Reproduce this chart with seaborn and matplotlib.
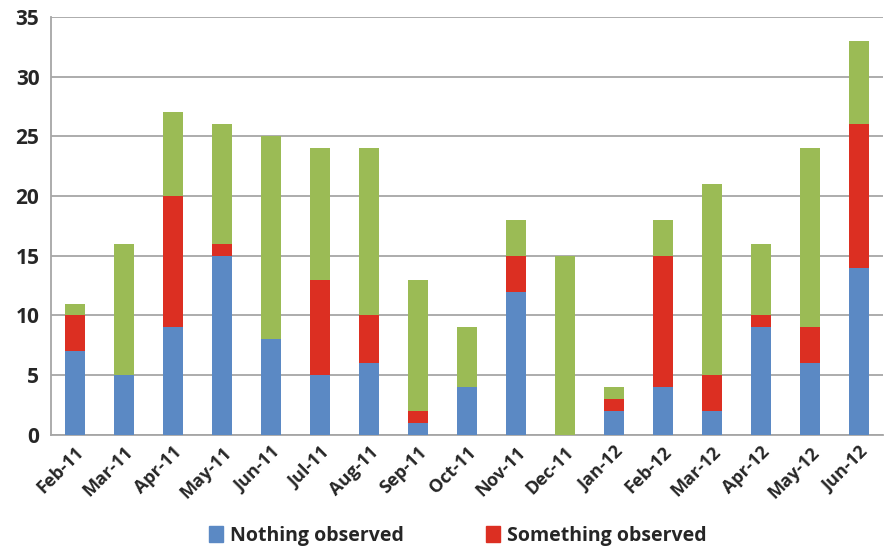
import numpy as np
import pandas as pd
import matplotlib
matplotlib.use("Agg")
import matplotlib.pyplot as plt
import seaborn as sns
from matplotlib.patches import Patch

# data
months = ["Feb-11", "Mar-11", "Apr-11", "May-11", "Jun-11", "Jul-11", "Aug-11",
          "Sep-11", "Oct-11", "Nov-11", "Dec-11", "Jan-12", "Feb-12", "Mar-12",
          "Apr-12", "May-12", "Jun-12"]
nothing = [7, 5, 9, 15, 8, 5, 6, 1, 4, 12, 0, 2, 4, 2, 9, 6, 14]
something = [3, 0, 11, 1, 0, 8, 4, 1, 0, 3, 0, 1, 11, 3, 1, 3, 12]
other = [1, 11, 7, 10, 17, 11, 14, 11, 5, 3, 15, 1, 3, 16, 6, 15, 7]

BLUE = "#5b89c4"
RED = "#dc2f22"
GREEN = "#9bbb55"

df = pd.DataFrame({"month": months, "nothing": nothing,
                   "something": something, "other": other})
df["lvl1"] = df["nothing"]
df["lvl2"] = df["nothing"] + df["something"]
df["lvl3"] = df["lvl2"] + df["other"]

sns.set_style("white")
plt.rcParams["font.family"] = ["Open Sans", "DejaVu Sans"]

fig = plt.figure(figsize=(8.86, 5.47), dpi=100)
ax = fig.add_axes([0.057, 0.205, 0.94, 0.764])

# stacked bars drawn as layered cumulative totals
for col, c in [("lvl3", GREEN), ("lvl2", RED), ("lvl1", BLUE)]:
    sns.barplot(data=df, x="month", y=col, color=c, width=0.42,
                saturation=1, linewidth=0, ax=ax, zorder=3)

ax.set_ylim(0, 35)
ax.set_xlim(-0.5, len(months) - 0.5)
ax.set_yticks(np.arange(0, 36, 5))
ax.yaxis.grid(True, color="#a6a6a6", linewidth=1.3, zorder=0)
ax.set_axisbelow(True)
ax.set_xlabel("")
ax.set_ylabel("")

for s in ["top", "right"]:
    ax.spines[s].set_visible(False)
for s in ["left", "bottom"]:
    ax.spines[s].set_color("#a6a6a6")
    ax.spines[s].set_linewidth(1.3)

ax.set_xticks(np.arange(len(months)))
ax.set_xticklabels(months, rotation=45, ha="right", rotation_mode="anchor",
                   fontsize=13, fontweight="bold")
ax.set_xticks(np.arange(len(months) + 1) - 0.5, minor=True)
ax.tick_params(axis="x", which="major", length=0, pad=6)
ax.tick_params(axis="x", which="minor", length=6, width=1.3, color="#a6a6a6")
ax.tick_params(axis="y", length=0, labelsize=15, pad=8)
for lab in ax.get_yticklabels():
    lab.set_fontweight("bold")

handles = [Patch(color=BLUE, label="Nothing observed"),
           Patch(color=RED, label="Something observed")]
fig.legend(handles=handles, loc="lower center", bbox_to_anchor=(0.517, -0.03),
           ncol=2, frameon=False, handlelength=0.7, handleheight=0.9,
           handletextpad=0.4, columnspacing=4.2,
           prop={"size": 14, "weight": "bold"})

fig.savefig("out.png", dpi=100)
